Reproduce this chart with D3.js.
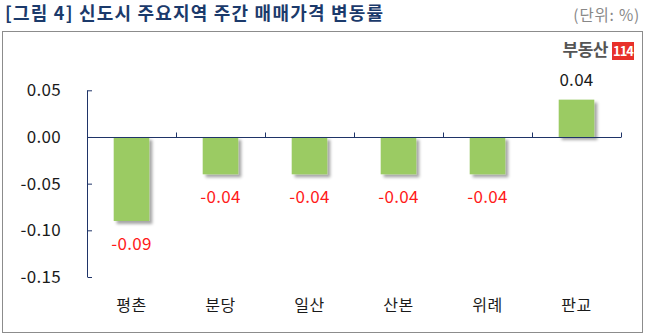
<!DOCTYPE html>
<html>
<head>
<meta charset="utf-8">
<script src="https://cdn.jsdelivr.net/npm/d3@7"></script>
<style>
  html, body { margin: 0; padding: 0; background: #fff; }
  svg { display: block; }
  text { font-family: "Noto Sans CJK KR", "Noto Sans", sans-serif; }
</style>
</head>
<body>
<svg id="chart" width="646" height="336"></svg>
<script>
// Weekly change in apartment sale prices across new-town districts (%)
const regions = ["평촌", "분당", "일산", "산본", "위례", "판교"];
const changes = [-0.09, -0.04, -0.04, -0.04, -0.04, 0.04];
const yTicks = [0.05, 0.00, -0.05, -0.10, -0.15];

const titleText = "[그림 4] 신도시 주요지역 주간 매매가격 변동률";
const unitText = "(단위: %)";

// Two decimals with a plain hyphen for negatives
const fmt = d => d3.format(".2f")(d).replace("\u2212", "-");

const svg = d3.select("#chart");

const defs = svg.append("defs");
const shadow = defs.append("filter").attr("id", "barShadow")
  .attr("x", "-20%").attr("y", "-20%").attr("width", "150%").attr("height", "150%");
shadow.append("feDropShadow")
  .attr("dx", 3).attr("dy", 3).attr("stdDeviation", 1.6)
  .attr("flood-color", "#000").attr("flood-opacity", 0.35);

// Title and unit
svg.append("text")
  .attr("x", 5).attr("y", 20)
  .attr("font-size", 18).attr("font-weight", "bold")
  .attr("letter-spacing", 1.2)
  .attr("fill", "#1b3a6b")
  .text(titleText);

svg.append("text")
  .attr("x", 640).attr("y", 21)
  .attr("text-anchor", "end")
  .attr("font-size", 15.5)
  .attr("letter-spacing", 0.8)
  .attr("fill", "#888")
  .text(unitText);

// Chart frame
svg.append("rect")
  .attr("x", 2.5).attr("y", 31.5)
  .attr("width", 640).attr("height", 301)
  .attr("fill", "none").attr("stroke", "#8c8c8c").attr("stroke-width", 1);

// Logo
const logo = svg.append("g");
logo.append("text")
  .attr("x", 608).attr("y", 56)
  .attr("text-anchor", "end")
  .attr("font-size", 17).attr("font-weight", "bold")
  .attr("fill", "#555")
  .attr("letter-spacing", -0.5)
  .text("부동산");
logo.append("rect")
  .attr("x", 612).attr("y", 42)
  .attr("width", 22).attr("height", 18)
  .attr("fill", "#e8302a");
logo.append("text")
  .attr("x", 623).attr("y", 56)
  .attr("text-anchor", "middle")
  .attr("font-size", 13).attr("font-weight", "bold")
  .attr("fill", "#fff")
  .attr("letter-spacing", -1)
  .text("114");

// Scales
const x = d3.scaleBand()
  .domain(regions)
  .range([87, 621])
  .paddingInner(0.6)
  .paddingOuter(0.3);

const y = d3.scaleLinear()
  .domain([-0.15, 0.05])
  .range([277, 90.3]);

const axisColor = "#1f3468";

// Y axis (ticks point inward)
const yAxis = svg.append("g")
  .attr("transform", "translate(87,0)")
  .call(d3.axisRight(y).tickValues(yTicks).tickSize(5).tickFormat(() => ""));
yAxis.select(".domain").attr("stroke", axisColor).attr("d", `M0.5,${y(0.05)}V${y(-0.15)}`);
yAxis.selectAll(".tick line").attr("stroke", axisColor).attr("x1", 0.5);

svg.append("g").selectAll("text")
  .data(yTicks)
  .join("text")
  .attr("x", 61).attr("y", d => y(d))
  .attr("dy", "0.36em")
  .attr("text-anchor", "end")
  .attr("font-size", 17)
  .attr("letter-spacing", 0.3)
  .attr("fill", "#1a1a1a")
  .text(fmt);

// Bars
svg.append("g").selectAll("rect")
  .data(changes)
  .join("rect")
  .attr("x", (d, i) => x(regions[i]))
  .attr("width", x.bandwidth())
  .attr("y", d => y(Math.max(0, d)))
  .attr("height", d => Math.abs(y(d) - y(0)))
  .attr("fill", "#9bcb64")
  .attr("filter", "url(#barShadow)");

// X axis at zero with upward ticks on band boundaries
const zeroY = Math.round(y(0)) + 0.5;
const boundaries = regions.map((r, i) => 87 + (i + 1) * x.step());
svg.append("line")
  .attr("x1", 87).attr("x2", 621)
  .attr("y1", zeroY).attr("y2", zeroY)
  .attr("stroke", axisColor).attr("stroke-width", 1);
svg.append("g").selectAll("line")
  .data(boundaries)
  .join("line")
  .attr("x1", d => Math.round(d) + 0.5).attr("x2", d => Math.round(d) + 0.5)
  .attr("y1", zeroY).attr("y2", zeroY - 5)
  .attr("stroke", axisColor);

// Value labels
svg.append("g").selectAll("text")
  .data(changes)
  .join("text")
  .attr("x", (d, i) => x(regions[i]) + x.bandwidth() / 2)
  .attr("y", d => d < 0 ? y(d) + 23 : y(d) - 20)
  .attr("dy", "0.36em")
  .attr("text-anchor", "middle")
  .attr("font-size", 17)
  .attr("letter-spacing", 0.3)
  .attr("fill", d => d < 0 ? "#ff1a1a" : "#1a1a1a")
  .text(fmt);

// Category labels
svg.append("g").selectAll("text")
  .data(regions)
  .join("text")
  .attr("x", d => x(d) + x.bandwidth() / 2)
  .attr("y", 305)
  .attr("dy", "0.36em")
  .attr("text-anchor", "middle")
  .attr("font-size", 16)
  .attr("letter-spacing", 0.5)
  .attr("fill", "#1a1a1a")
  .text(d => d);
</script>
</body>
</html>
